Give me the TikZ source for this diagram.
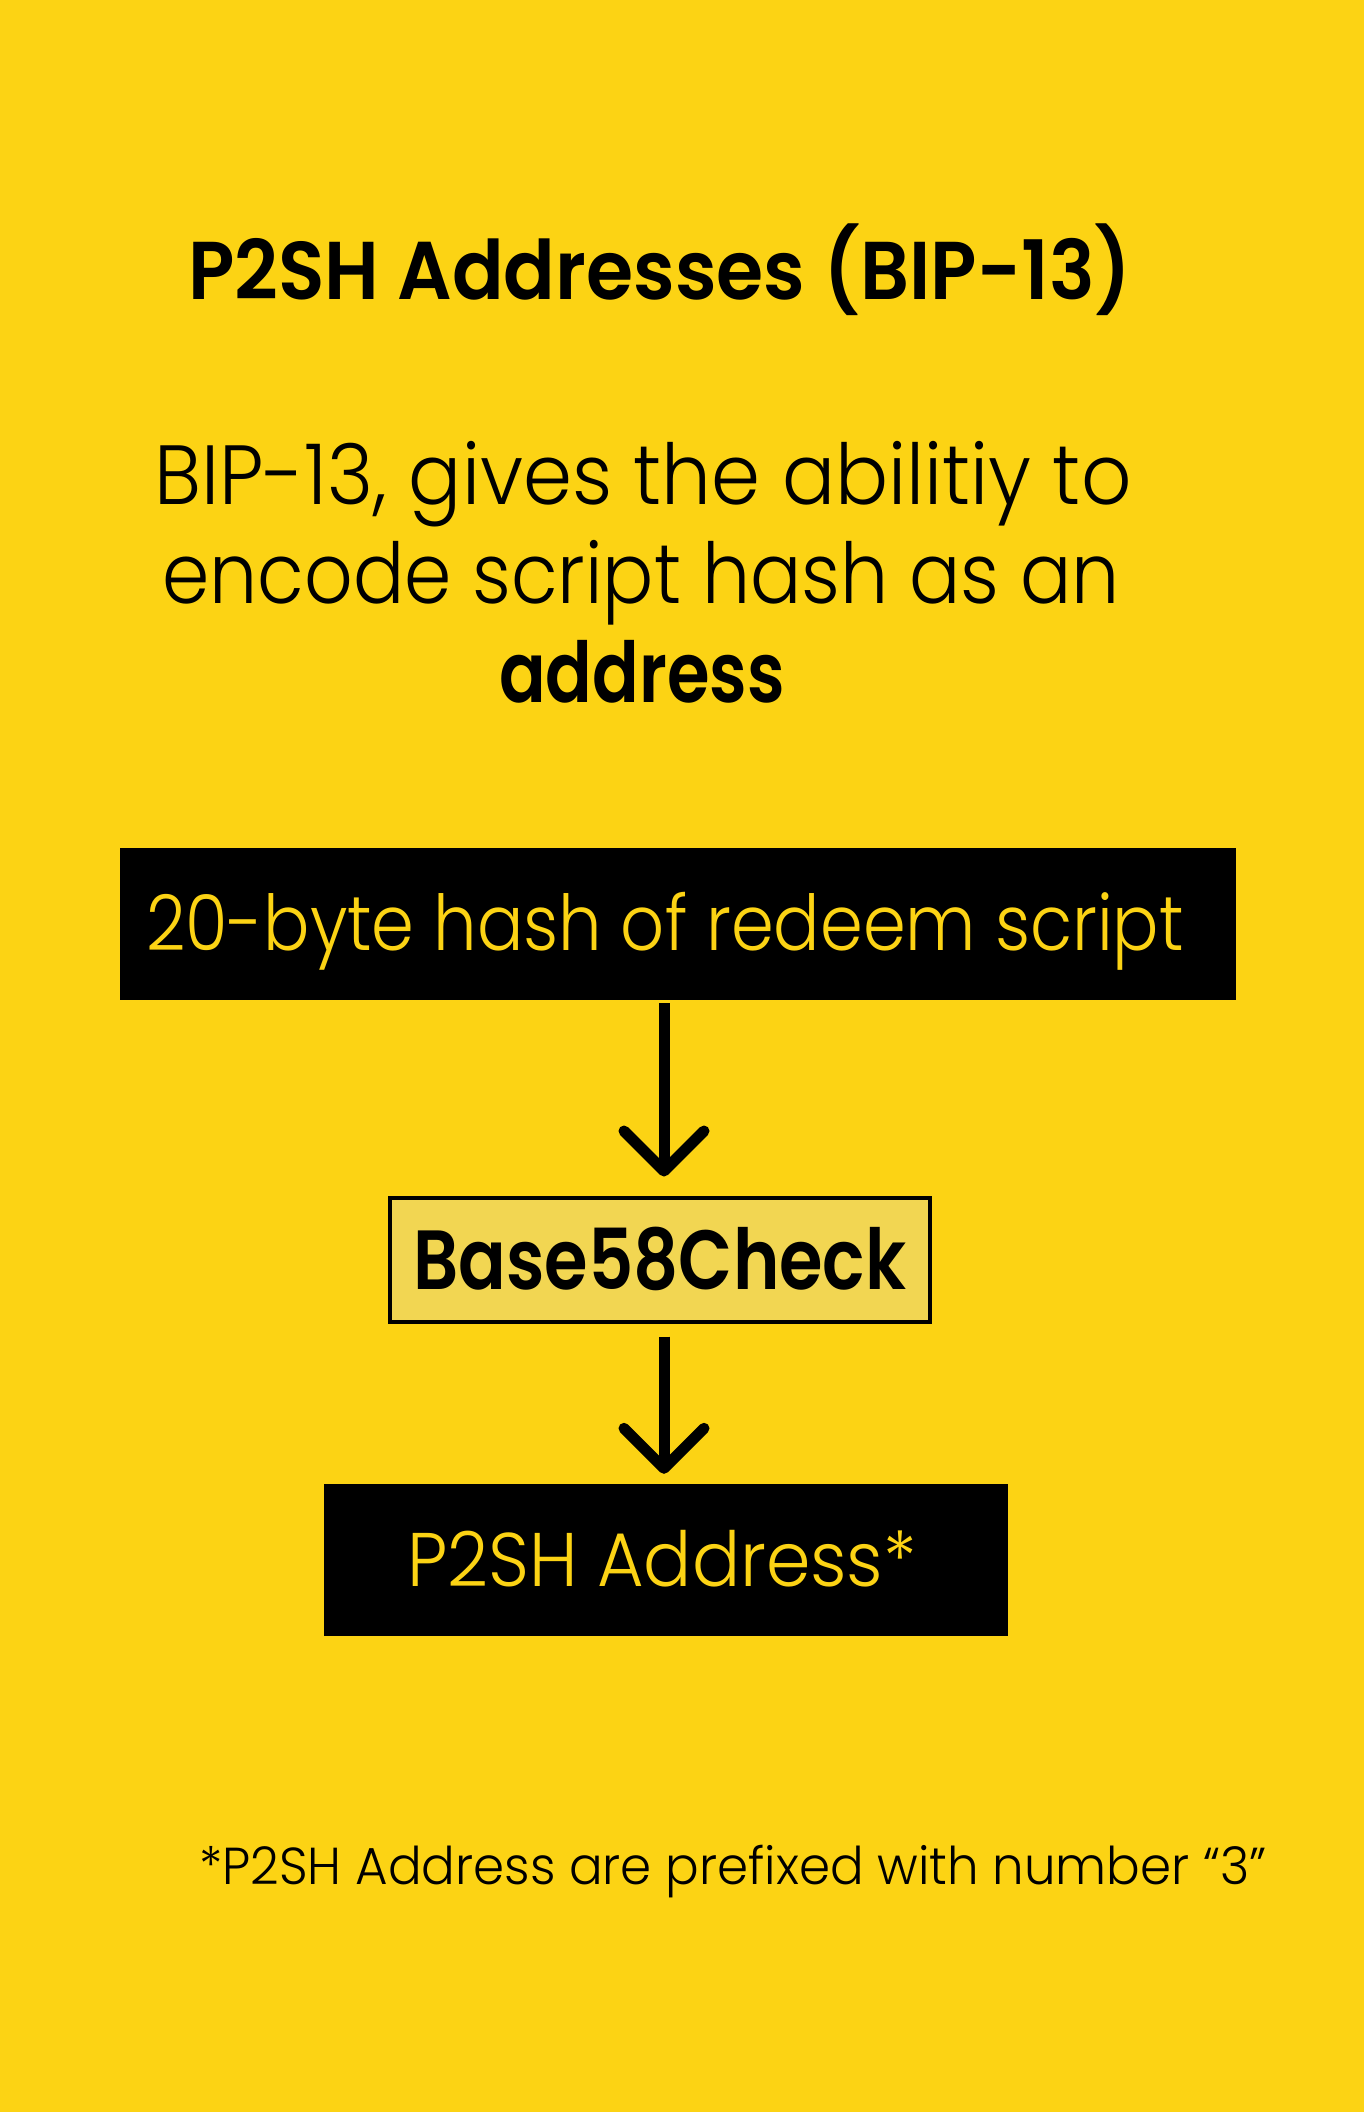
\documentclass[tikz,border=0pt]{standalone}
\usepackage{fontspec}
\setmainfont{Poppins}[UprightFont=* Light, BoldFont=* SemiBold]
\usetikzlibrary{arrows.meta}
\definecolor{bg}{RGB}{252,211,20}
\definecolor{boxfill}{RGB}{242,214,82}
\newcommand{\fsz}[1]{\fontsize{#1}{#1}\selectfont}
\newcommand{\hs}[2]{\scalebox{#1}[1]{#2}}
\begin{document}
\begin{tikzpicture}[x=1pt,y=-1pt,
  txt/.style={anchor=base, inner sep=0pt},
  blackbox/.style={fill=black, text=bg, inner sep=0pt, text height=0.7*#1, text depth=0pt, font=\fsz{#1}},
  arr/.style={line width=11pt, -{Straight Barb[round,length=40pt,width=80pt]}}
]
\useasboundingbox (0,0) rectangle (1364,2112);
\fill[bg] (0,0) rectangle (1364,2112);
\node[txt, font=\bfseries\fsz{82}] (title) at (660,299) {\hs{0.93}{P2SH Addresses (BIP-13)}};
\node[txt, font=\fsz{84}] (body1) at (643,504) {\hs{0.937}{BIP-13, gives the abilitiy to}};
\node[txt, font=\fsz{84}] (body2) at (641,603) {\hs{0.905}{encode script hash as an}};
\node[txt, font=\bfseries\fsz{84}] (body3) at (642,702) {\hs{0.82}{address}};
\node[blackbox=77pt, minimum width=1116pt, minimum height=152pt] (hash) at (678,924) {\hs{0.893}{20-byte hash of redeem script}\hspace*{26pt}};
\node[draw=black, line width=4pt, fill=boxfill, inner sep=0pt, text height=59pt, text depth=0pt,
      font=\bfseries\fsz{84}, minimum width=540pt, minimum height=124pt] (b58) at (660,1259.5) {\hs{0.838}{Base58Check}};
\node[blackbox=76pt, minimum width=684pt, minimum height=152pt] (addr) at (666,1560) {\hs{0.94}{P2SH Address*}\hspace*{8pt}};
\node[txt, font=\fsz{52}] (note) at (733,1884) {\hs{0.96}{*P2SH Address are prefixed with number “3”}};
\draw[arr, shorten <=3pt, shorten >=19pt] ([xshift=4pt]hash.south -| b58.north) -- ([xshift=4pt]b58.north);
\draw[arr, shorten <=13pt, shorten >=10pt] ([xshift=4pt]b58.south) -- ([xshift=4pt]b58.south |- addr.north);
\end{tikzpicture}
\end{document}
